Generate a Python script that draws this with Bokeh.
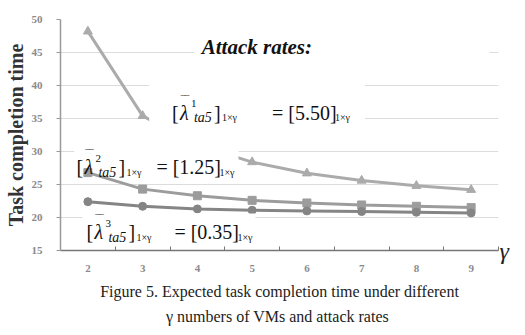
from bokeh.plotting import figure
from bokeh.models import (ColumnDataSource, Label, BoxAnnotation, Title,
                          FixedTicker, Range1d, LinearAxis)
from bokeh.embed import file_html
from bokeh.resources import INLINE

# ---- data ----
gamma = [2, 3, 4, 5, 6, 7, 8, 9]
rate_550 = [48.2, 35.4, 31.0, 28.4, 26.7, 25.6, 24.8, 24.2]
rate_125 = [26.8, 24.3, 23.3, 22.6, 22.2, 21.9, 21.7, 21.5]
rate_035 = [22.4, 21.7, 21.3, 21.1, 21.0, 20.9, 20.8, 20.7]
y_ticks = [15, 20, 25, 30, 35, 40, 45, 50]
boundaries = [2.5, 3.5, 4.5, 5.5, 6.5, 7.5, 8.5, 9.5]

SERIF = "Liberation Serif"

p = figure(width=517, height=327, output_backend="svg", toolbar_location=None,
           x_range=Range1d(1.5, 9.5), y_range=Range1d(15, 50),
           min_border_left=58, min_border_right=19, min_border_top=19,
           min_border_bottom=77)
p.outline_line_color = None
p.background_fill_color = "white"
p.xgrid.grid_line_color = None
p.ygrid.grid_line_color = "#dcdcdc"
p.ygrid.grid_line_width = 1

# axes
p.xaxis.ticker = FixedTicker(ticks=gamma, minor_ticks=boundaries)
p.xaxis.major_tick_line_color = None
p.xaxis.major_tick_out = 0
p.xaxis.major_tick_in = 0
p.xaxis.minor_tick_in = 4
p.xaxis.minor_tick_out = 0
p.xaxis.minor_tick_line_color = "#777777"
p.xaxis.axis_line_color = "#777777"
p.xaxis.axis_line_width = 1.5
p.xaxis.major_label_standoff = 14
p.xaxis.major_label_text_font = SERIF
p.xaxis.major_label_text_font_size = "11px"
p.xaxis.major_label_text_font_style = "bold"
p.xaxis.major_label_text_color = "#8a8a8a"

p.yaxis.ticker = FixedTicker(ticks=y_ticks)
p.yaxis.minor_tick_line_color = None
p.yaxis.major_tick_out = 4
p.yaxis.major_tick_in = 0
p.yaxis.major_tick_line_color = "#999999"
p.yaxis.axis_line_color = "#999999"
p.yaxis.axis_line_width = 1.5
p.yaxis.major_label_standoff = 14
p.yaxis.major_label_text_font = SERIF
p.yaxis.major_label_text_font_size = "11px"
p.yaxis.major_label_text_font_style = "bold"
p.yaxis.major_label_text_color = "#8a8a8a"

# y axis title (as a left title so it can sit a little lower, as in the original)
ytitle = Title(text="Task completion time", align="center", offset=-11,
               text_font=SERIF, text_font_size="20px",
               text_font_style="bold", text_color="#333333", standoff=4)
p.add_layout(ytitle, "left")

# gamma symbol at the end of the x axis (label of an invisible right axis)
gax = LinearAxis(axis_label="\u03b3", axis_line_color=None,
                 major_tick_line_color=None, minor_tick_line_color=None,
                 major_label_text_font_size="0px", major_tick_out=0,
                 major_tick_in=0, major_label_standoff=0,
                 axis_label_standoff=1, axis_label_orientation="horizontal",
                 axis_label_align="start", axis_label_text_font=SERIF,
                 axis_label_text_font_size="24px",
                 axis_label_text_font_style="italic",
                 axis_label_text_color="#222222",
                 ticker=FixedTicker(ticks=[]))
p.add_layout(gax, "right")

# series
src = ColumnDataSource(dict(g=gamma, a=rate_550, b=rate_125, c=rate_035))
p.line("g", "a", source=src, line_color="#ababab", line_width=3)
p.scatter("g", "a", source=src, marker="triangle", size=9,
          fill_color="#ababab", line_color="#ababab")
p.line("g", "b", source=src, line_color="#9c9c9c", line_width=3)
p.scatter("g", "b", source=src, marker="square", size=8,
          fill_color="#9c9c9c", line_color="#9c9c9c")
p.line("g", "c", source=src, line_color="#858585", line_width=3)
p.scatter("g", "c", source=src, marker="circle", size=8,
          fill_color="#858585", line_color="#858585")

# white text boxes (as in the original figure's text boxes)
text_boxes = [
    (3.94, 9.34, 43.2, 47.0),
    (3.12, 7.06, 30.3, 41.2),
    (1.75, 4.75, 27.6, 31.1),
    (1.90, 5.06, 16.4, 20.6),
]
for l, r, b, t in text_boxes:
    p.add_layout(BoxAnnotation(left=l, right=r, bottom=b, top=t,
                               fill_color="white", fill_alpha=1.0,
                               line_alpha=0))

# annotation texts
p.add_layout(Label(x=4.08, y=43.94, text="Attack rates:", text_font=SERIF,
                   text_font_size="21px", text_font_style="bold italic",
                   text_color="#111111"))

rate_labels = [("1", "5.50"), ("2", "1.25"), ("3", "0.35")]
label_pos = [(3.536, 35.9, 100), (1.791, 27.6, 80), (1.973, 17.8, 88)]


def put(x, y, dx, dy, txt, size, style="normal"):
    p.add_layout(Label(x=x, y=y, x_offset=dx, y_offset=dy, text=txt,
                       text_font=SERIF, text_font_size=size,
                       text_font_style=style, text_color="#111111",
                       text_baseline="alphabetic", text_align="left"))


for (sup, val), (x, y, eq) in zip(rate_labels, label_pos):
    put(x, y, 0, 0, "[", "20px")
    put(x, y, 8, 0, "\u03bb", "20px", "italic")
    put(x, y, 9, 12, "\u203e\u203e", "12px")
    put(x, y, 19, 9, sup, "11px")
    put(x, y, 22, -5, "ta5", "14px", "italic")
    put(x, y, 42, 0, "]", "20px")
    put(x, y, 50, -5, "1\u00d7\u03b3", "10px")
    put(x, y, eq, 0, "= [" + val + "]", "20px")
    put(x, y, eq + 63, -5, "1\u00d7\u03b3", "10px")

# caption
cap1 = Title(text="Figure 5. Expected task completion time under different",
             align="center", text_font=SERIF, text_font_size="16px",
             text_font_style="normal", text_color="#222222", standoff=12)
cap2 = Title(text="\u03b3  numbers of VMs and attack rates",
             align="center", text_font=SERIF, text_font_size="16px",
             text_font_style="normal", text_color="#222222", standoff=0)
p.add_layout(cap1, "below")
p.add_layout(cap2, "below")

open("out.html", "w").write(file_html(p, INLINE))
